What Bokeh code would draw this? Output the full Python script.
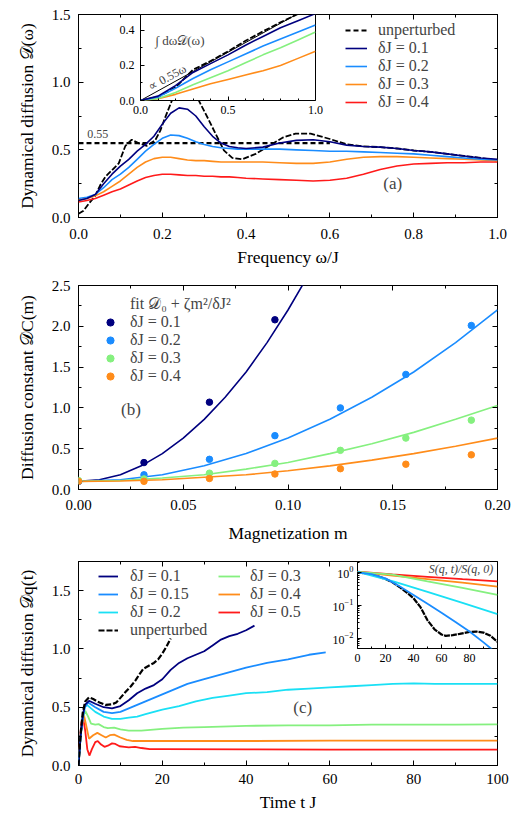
from bokeh.plotting import figure
from bokeh.models import (Range1d, SingleIntervalTicker, FixedTicker, PrintfTickFormatter,
                          LinearAxis, Legend, LegendItem, GridBox, Label, CustomJSTickFormatter)
from bokeh.embed import file_html
from bokeh.resources import INLINE

FONT = "Liberation Serif"
NAVY = "#00007f"
BLUE = "#1a8cff"
CYAN = "#1ae0f5"
GREEN = "#85f07f"
ORANGE = "#ff8c1a"
RED = "#ff1a1a"

# ---------------- panel (a) data ----------------
omega_u = [0, 0.012, 0.024, 0.04, 0.052, 0.064, 0.08, 0.096, 0.112, 0.127, 0.143, 0.163, 0.183,
           0.195, 0.207, 0.223, 0.24, 0.255, 0.27, 0.287, 0.311, 0.327, 0.347, 0.367, 0.391,
           0.423, 0.455, 0.487, 0.518, 0.554, 0.6, 0.641, 0.68, 0.72, 0.76, 0.80, 0.84, 0.88,
           0.92, 0.96, 1.0]
d_unpert = [0.027, 0.05, 0.10, 0.16, 0.24, 0.30, 0.35, 0.40, 0.53, 0.575, 0.55, 0.53, 0.57,
            0.64, 0.74, 0.865, 1.1, 1.2, 1.1, 0.865, 0.72, 0.62, 0.496, 0.44, 0.43, 0.47, 0.53,
            0.59, 0.62, 0.62, 0.58, 0.54, 0.525, 0.52, 0.51, 0.495, 0.485, 0.47, 0.455, 0.44, 0.42]
omega = [0, 0.02, 0.04, 0.06, 0.08, 0.1, 0.12, 0.14, 0.16, 0.18, 0.2, 0.22, 0.24, 0.26, 0.28,
         0.3, 0.32, 0.34, 0.36, 0.38, 0.4, 0.44, 0.48, 0.52, 0.56, 0.6, 0.64, 0.68, 0.72, 0.76,
         0.8, 0.84, 0.88, 0.92, 0.96, 1.0]
d_01 = [0.125, 0.14, 0.17, 0.25, 0.32, 0.38, 0.43, 0.49, 0.54, 0.6, 0.69, 0.77, 0.81, 0.8, 0.75,
        0.67, 0.6, 0.55, 0.525, 0.515, 0.51, 0.52, 0.55, 0.57, 0.575, 0.56, 0.535, 0.525, 0.52,
        0.51, 0.495, 0.485, 0.47, 0.455, 0.44, 0.43]
d_02 = [0.14, 0.15, 0.17, 0.22, 0.28, 0.32, 0.37, 0.43, 0.49, 0.54, 0.585, 0.61, 0.605, 0.585,
        0.56, 0.54, 0.525, 0.515, 0.51, 0.505, 0.505, 0.505, 0.505, 0.5, 0.495, 0.49, 0.49,
        0.485, 0.48, 0.475, 0.47, 0.46, 0.45, 0.44, 0.43, 0.425]
d_03 = [0.13, 0.14, 0.16, 0.19, 0.23, 0.27, 0.32, 0.37, 0.41, 0.435, 0.445, 0.445, 0.435, 0.425,
        0.42, 0.42, 0.415, 0.41, 0.41, 0.41, 0.41, 0.41, 0.405, 0.4, 0.4, 0.41, 0.43, 0.445,
        0.45, 0.45, 0.445, 0.44, 0.435, 0.43, 0.425, 0.42]
d_04 = [0.115, 0.125, 0.14, 0.165, 0.19, 0.21, 0.24, 0.27, 0.295, 0.31, 0.32, 0.32, 0.315, 0.31,
        0.31, 0.305, 0.305, 0.3, 0.3, 0.295, 0.29, 0.285, 0.28, 0.275, 0.27, 0.275, 0.29, 0.32,
        0.355, 0.38, 0.395, 0.4, 0.405, 0.405, 0.41, 0.41]
plateau_x = [0.0, 0.6]
plateau_y = [0.55, 0.55]

# inset (a): integrated diffusion
omega_i = [0, 0.1, 0.2, 0.3, 0.4, 0.5, 0.6, 0.7, 0.8, 0.9, 1.0]
int_unpert = [0, 0.02, 0.075, 0.175, 0.225, 0.28, 0.34, 0.394, 0.445, 0.493, 0.537]
int_01 = [0, 0.025, 0.085, 0.16, 0.21, 0.26, 0.315, 0.365, 0.415, 0.455, 0.495]
int_02 = [0, 0.02, 0.07, 0.125, 0.175, 0.22, 0.265, 0.31, 0.35, 0.39, 0.43]
int_03 = [0, 0.012, 0.045, 0.09, 0.13, 0.17, 0.215, 0.26, 0.3, 0.345, 0.39]
int_04 = [0, 0.01, 0.035, 0.065, 0.095, 0.12, 0.145, 0.17, 0.2, 0.24, 0.28]
prop_x = [0, 1]
prop_y = [0, 0.55]

# ---------------- panel (b) data ----------------
m_pts = [0.0, 0.03125, 0.0625, 0.09375, 0.125, 0.15625, 0.1875]
dc_01 = [0.10, 0.33, 1.07, 2.08]
dc_02 = [0.10, 0.18, 0.37, 0.66, 1.00, 1.41, 2.01]
dc_03 = [0.11, 0.13, 0.20, 0.32, 0.48, 0.63, 0.85]
dc_04 = [0.10, 0.10, 0.135, 0.19, 0.255, 0.31, 0.425]
fit_m1 = [0, 0.01, 0.02, 0.03, 0.04, 0.05, 0.06, 0.07, 0.08, 0.09, 0.10, 0.11]
fit_01 = [0.10, 0.12, 0.18, 0.29, 0.44, 0.63, 0.86, 1.13, 1.44, 1.80, 2.20, 2.64]
fit_m = [0, 0.02, 0.04, 0.06, 0.08, 0.10, 0.12, 0.14, 0.16, 0.18, 0.20]
fit_02 = [0.10, 0.12, 0.18, 0.29, 0.44, 0.63, 0.86, 1.13, 1.44, 1.80, 2.20]
fit_03 = [0.10, 0.11, 0.14, 0.18, 0.25, 0.33, 0.44, 0.56, 0.70, 0.86, 1.03]
fit_04 = [0.10, 0.105, 0.12, 0.15, 0.18, 0.23, 0.29, 0.36, 0.44, 0.53, 0.63]

# ---------------- panel (c) data ----------------
t_u = [0, 0.5, 1, 1.6, 2.5, 3.5, 5, 6.5, 8, 9, 10, 11.2, 12.5, 13.6, 14.5, 15.5, 17, 18, 19, 20, 21, 22]
dq_u = [0, 0.27, 0.45, 0.55, 0.585, 0.57, 0.54, 0.52, 0.525, 0.54, 0.58, 0.63, 0.68, 0.73, 0.78,
        0.83, 0.86, 0.88, 0.91, 0.96, 1.02, 1.09]
t_01 = [0, 0.5, 1, 1.5, 2.5, 4, 6, 8, 10, 12, 14, 16, 18, 20, 22, 24, 26, 28, 30, 32, 34, 36, 38, 40, 42]
dq_01 = [0, 0.25, 0.42, 0.52, 0.555, 0.53, 0.5, 0.49, 0.51, 0.56, 0.62, 0.66, 0.69, 0.74, 0.82,
         0.88, 0.92, 0.95, 0.98, 1.03, 1.08, 1.11, 1.13, 1.16, 1.20]
t_015 = [0, 0.5, 1, 1.5, 2.3, 4, 6, 8, 10, 12, 14, 16, 18, 20, 22, 24, 26, 30, 35, 40, 45, 50, 55, 59]
dq_015 = [0, 0.25, 0.4, 0.5, 0.54, 0.5, 0.46, 0.45, 0.46, 0.49, 0.52, 0.55, 0.58, 0.61, 0.64,
          0.67, 0.7, 0.74, 0.79, 0.84, 0.88, 0.91, 0.95, 0.97]
t_02 = [0, 0.5, 1, 1.5, 2, 3, 4, 6, 8, 10, 12, 14, 16, 18, 20, 24, 28, 32, 36, 40, 45, 50, 55, 60,
        65, 70, 75, 80, 85, 90, 95, 100]
dq_02 = [0, 0.25, 0.42, 0.5, 0.52, 0.49, 0.46, 0.42, 0.40, 0.40, 0.41, 0.42, 0.44, 0.46, 0.48,
         0.51, 0.55, 0.58, 0.60, 0.62, 0.63, 0.65, 0.66, 0.67, 0.68, 0.69, 0.70, 0.705, 0.70,
         0.70, 0.70, 0.70]
t_03 = [0, 0.5, 1, 1.6, 2.3, 3, 4, 4.8, 6, 7, 8.5, 10, 12, 15, 20, 25, 30, 40, 50, 60, 70, 80, 90, 100]
dq_03 = [0, 0.25, 0.4, 0.47, 0.42, 0.36, 0.35, 0.355, 0.33, 0.32, 0.325, 0.31, 0.30, 0.30, 0.315,
         0.325, 0.33, 0.34, 0.345, 0.345, 0.35, 0.35, 0.35, 0.353]
t_04 = [0, 0.5, 1, 1.3, 1.8, 2.5, 3.5, 4.5, 5.5, 6.5, 7.5, 8.5, 10, 11.5, 13, 20, 40, 60, 80, 100]
dq_04 = [0, 0.25, 0.4, 0.43, 0.35, 0.23, 0.26, 0.28, 0.26, 0.24, 0.26, 0.265, 0.24, 0.22, 0.21,
         0.21, 0.21, 0.213, 0.214, 0.214]
t_05 = [0, 0.3, 0.7, 1.1, 1.6, 2.1, 2.6, 3.2, 4, 4.6, 5.4, 6.2, 7, 8, 8.8, 9.8, 11, 12, 13.5, 15,
        17, 20, 40, 60, 80, 100]
dq_05 = [0, 0.2, 0.37, 0.41, 0.3, 0.14, 0.085, 0.14, 0.2, 0.21, 0.18, 0.16, 0.17, 0.19, 0.185,
         0.165, 0.16, 0.155, 0.16, 0.15, 0.14, 0.14, 0.138, 0.137, 0.137, 0.137]

# inset (c): S(q,t)/S(q,0), log scale
ts_u = [0, 5, 10, 15, 20, 25, 30, 35, 40, 45, 50, 55, 60, 63, 68, 73, 80, 85, 90, 95, 100]
s_u = [1.0, 0.955, 0.871, 0.759, 0.631, 0.501, 0.363, 0.251, 0.166, 0.089, 0.0355, 0.019, 0.0132,
       0.012, 0.0126, 0.0138, 0.0158, 0.0162, 0.0151, 0.012, 0.0079]
ts_015 = [0, 10, 20, 30, 40, 50, 60, 70, 80, 90, 96]
s_015 = [1.0, 0.891, 0.661, 0.380, 0.209, 0.112, 0.0603, 0.0316, 0.0162, 0.0076, 0.0047]
ts = [0, 25, 50, 75, 100]
s_02 = [1.05, 0.55, 0.26, 0.12, 0.055]
s_03 = [1.05, 0.86, 0.54, 0.34, 0.21]
s_04 = [1.05, 0.81, 0.63, 0.49, 0.37]
s_05 = [1.05, 0.87, 0.74, 0.63, 0.54]


def style_axis(ax, label_size="15px", tick_in=5, minor_in=3, standoff=8):
    ax.axis_line_color = None
    ax.major_tick_in = tick_in
    ax.major_tick_out = 0
    ax.minor_tick_in = minor_in
    ax.minor_tick_out = 0
    ax.major_tick_line_color = "black"
    ax.minor_tick_line_color = "black"
    ax.major_label_text_font = FONT
    ax.major_label_text_font_size = label_size
    ax.major_label_text_color = "black"
    ax.major_label_standoff = standoff
    ax.axis_label_text_font = FONT
    ax.axis_label_text_font_size = "17.5px"
    ax.axis_label_text_font_style = "normal"
    ax.axis_label_text_color = "black"


def base_fig(width, height, xr, yr, borders, **kw):
    top, right, bottom, left = borders
    p = figure(width=width, height=height, x_range=xr, y_range=yr, output_backend="svg",
               toolbar_location=None, min_border_top=top, min_border_right=right,
               min_border_bottom=bottom, min_border_left=left, **kw)
    p.xgrid.visible = False
    p.ygrid.visible = False
    p.outline_line_color = "black"
    p.outline_line_width = 1
    p.outline_line_alpha = 1
    p.background_fill_color = "white"
    return p


def mirror(p, xticker, yticker):
    blank = CustomJSTickFormatter(code="return ''")
    for loc, tk in (("right", yticker), ("above", xticker)):
        ax = LinearAxis(ticker=tk, formatter=blank)
        style_axis(ax, standoff=0)
        p.add_layout(ax, loc)


def make_legend(items, x, y, size="16px", gw=22, standoff=11):
    lg = Legend(items=items, location=(x, y), orientation="vertical")
    lg.label_text_font = FONT
    lg.label_text_font_size = size
    lg.glyph_width = gw
    lg.glyph_height = 18
    lg.label_height = 18
    lg.label_width = 10
    lg.spacing = 0
    lg.padding = 0
    lg.margin = 0
    lg.label_standoff = standoff
    lg.background_fill_alpha = 0
    lg.border_line_alpha = 0
    return lg


# borders (top, right, bottom, left); insets share their host's borders (grid alignment)
BA = (14, 30, 55, 78)
BB = (13, 30, 55, 78)
BC = (16, 30, 51, 78)

# ================= panel (a) =================
pa = base_fig(527, 272, Range1d(0, 1), Range1d(0, 1.5), BA)
xa_t = SingleIntervalTicker(interval=0.2, num_minor_ticks=2)
ya_t = SingleIntervalTicker(interval=0.5, num_minor_ticks=2)
pa.xaxis.ticker = xa_t
pa.yaxis.ticker = ya_t
pa.xaxis.formatter = PrintfTickFormatter(format="%.1f")
pa.yaxis.formatter = PrintfTickFormatter(format="%.1f")
style_axis(pa.xaxis[0], standoff=11)
style_axis(pa.yaxis[0])
pa.xaxis.axis_label = "Frequency ω/J"
pa.yaxis.axis_label = "Dynamical diffusion 𝒟(ω)"
pa.xaxis.axis_label_standoff = 5
pa.yaxis.axis_label_standoff = 12
mirror(pa, xa_t, ya_t)

r_pl = pa.line(plateau_x, plateau_y, color="black", line_width=2.2, line_dash="5 3")
pa.line(omega_u, d_unpert, color="black", line_width=1.8, line_dash="6 2")
r_a4 = pa.line(omega, d_04, color=RED, line_width=1.6)
r_a3 = pa.line(omega, d_03, color=ORANGE, line_width=1.6)
r_a2 = pa.line(omega, d_02, color=BLUE, line_width=1.6)
r_a1 = pa.line(omega, d_01, color=NAVY, line_width=1.6)
pa.add_layout(Label(x=0.021, y=0.62, text="0.55", text_font=FONT, text_font_size="12px",
                    text_baseline="middle"))
pa.add_layout(Label(x=0.75, y=0.25, text="(a)", text_font=FONT, text_font_size="17px",
                    text_align="center", text_baseline="middle"))
pa.add_layout(make_legend([
    LegendItem(label="unperturbed", renderers=[r_pl]),
    LegendItem(label="δJ = 0.1", renderers=[r_a1]),
    LegendItem(label="δJ = 0.2", renderers=[r_a2]),
    LegendItem(label="δJ = 0.3", renderers=[r_a3]),
    LegendItem(label="δJ = 0.4", renderers=[r_a4]),
], 267, 106))

# inset (a): frame 175 x 86
ia = base_fig(BA[3] + 175 + BA[1], BA[0] + 86 + BA[2], Range1d(0, 1), Range1d(0, 0.49), BA)
ia.border_fill_alpha = 0
ia.xaxis.ticker = FixedTicker(ticks=[0, 0.5, 1.0], minor_ticks=[0.1, 0.2, 0.3, 0.4, 0.6, 0.7, 0.8, 0.9])
ia.yaxis.ticker = FixedTicker(ticks=[0, 0.2, 0.4], minor_ticks=[0.1, 0.3])
ia.xaxis.formatter = PrintfTickFormatter(format="%.1f")
ia.yaxis.formatter = PrintfTickFormatter(format="%.1f")
style_axis(ia.xaxis[0], label_size="12px", tick_in=4, minor_in=2, standoff=5)
style_axis(ia.yaxis[0], label_size="12px", tick_in=4, minor_in=2, standoff=6)
ia.line(prop_x, prop_y, color="black", line_width=1)
ia.line(omega_i, int_unpert, color="black", line_width=1.8, line_dash="6 2")
ia.line(omega_i, int_04, color=ORANGE, line_width=1.6)
ia.line(omega_i, int_03, color=GREEN, line_width=1.6)
ia.line(omega_i, int_02, color=BLUE, line_width=1.6)
ia.line(omega_i, int_01, color=NAVY, line_width=1.6)
ia.add_layout(Label(x=0.085, y=0.343, text="∫ dω𝒟(ω)", text_font=FONT, text_font_size="13px",
                    text_baseline="middle"))
ia.add_layout(Label(x=0.07, y=0.04, text="∝ 0.55ω", text_font=FONT, text_font_size="12px",
                    angle=28.8, angle_units="deg", text_baseline="bottom"))
ia.margin = (0, 0, 0, 140 - BA[3])

# ================= panel (b) =================
pb = base_fig(527, 273, Range1d(0, 0.2), Range1d(0, 2.5), BB)
xb_t = SingleIntervalTicker(interval=0.05, num_minor_ticks=2)
yb_t = SingleIntervalTicker(interval=0.5, num_minor_ticks=2)
pb.xaxis.ticker = xb_t
pb.yaxis.ticker = yb_t
pb.xaxis.formatter = PrintfTickFormatter(format="%.2f")
pb.yaxis.formatter = PrintfTickFormatter(format="%.1f")
style_axis(pb.xaxis[0], standoff=10)
style_axis(pb.yaxis[0])
pb.xaxis.axis_label = "Magnetization m"
pb.yaxis.axis_label = "Diffusion constant 𝒟C(m)"
pb.xaxis.axis_label_standoff = 10
pb.yaxis.axis_label_standoff = 12
mirror(pb, xb_t, yb_t)

r_fit = pb.line([], [], color="black", line_width=2)
pb.line(fit_m1, fit_01, color=NAVY, line_width=1.6)
pb.line(fit_m, fit_02, color=BLUE, line_width=1.6)
pb.line(fit_m, fit_03, color=GREEN, line_width=1.6)
pb.line(fit_m, fit_04, color=ORANGE, line_width=1.6)
s1 = pb.scatter(m_pts[:len(dc_01)], dc_01, color=NAVY, size=6.5)
s2 = pb.scatter(m_pts, dc_02, color=BLUE, size=6.5)
s3 = pb.scatter(m_pts, dc_03, color=GREEN, size=6.5)
s4 = pb.scatter(m_pts, dc_04, color=ORANGE, size=6.5)
pb.add_layout(Label(x=0.025, y=0.98, text="(b)", text_font=FONT, text_font_size="17px",
                    text_align="center", text_baseline="middle"))
pb.add_layout(make_legend([
    LegendItem(label="fit 𝒟₀ + ζm²/δJ²", renderers=[r_fit]),
    LegendItem(label="δJ = 0.1", renderers=[s1]),
    LegendItem(label="δJ = 0.2", renderers=[s2]),
    LegendItem(label="δJ = 0.3", renderers=[s3]),
    LegendItem(label="δJ = 0.4", renderers=[s4]),
], 22, 104, gw=20, standoff=10))

# ================= panel (c) =================
pc = base_fig(527, 271, Range1d(0, 100), Range1d(0, 1.75), BC)
xc_t = SingleIntervalTicker(interval=20, num_minor_ticks=2)
yc_t = SingleIntervalTicker(interval=0.5, num_minor_ticks=2)
pc.xaxis.ticker = xc_t
pc.yaxis.ticker = yc_t
pc.yaxis.formatter = PrintfTickFormatter(format="%.1f")
style_axis(pc.xaxis[0], standoff=8)
style_axis(pc.yaxis[0])
pc.xaxis.axis_label = "Time t J"
pc.yaxis.axis_label = "Dynamical diffusion 𝒟q(t)"
pc.xaxis.axis_label_standoff = 5
pc.yaxis.axis_label_standoff = 12
mirror(pc, xc_t, yc_t)

c5 = pc.line(t_05, dq_05, color=RED, line_width=1.8)
c4 = pc.line(t_04, dq_04, color=ORANGE, line_width=1.8)
c3 = pc.line(t_03, dq_03, color=GREEN, line_width=1.8)
c2 = pc.line(t_02, dq_02, color=CYAN, line_width=1.8)
c15 = pc.line(t_015, dq_015, color=BLUE, line_width=1.8)
c1 = pc.line(t_01, dq_01, color=NAVY, line_width=1.8)
cu = pc.line(t_u, dq_u, color="black", line_width=2.2, line_dash="6 2")
pc.add_layout(Label(x=53.5, y=0.5, text="(c)", text_font=FONT, text_font_size="17px",
                    text_align="center", text_baseline="middle"))
pc.add_layout(make_legend([
    LegendItem(label="δJ = 0.1", renderers=[c1]),
    LegendItem(label="δJ = 0.15", renderers=[c15]),
    LegendItem(label="δJ = 0.2", renderers=[c2]),
    LegendItem(label="unperturbed", renderers=[cu]),
], 20, 126, gw=20, standoff=12))
pc.add_layout(make_legend([
    LegendItem(label="δJ = 0.3", renderers=[c3]),
    LegendItem(label="δJ = 0.4", renderers=[c4]),
    LegendItem(label="δJ = 0.5", renderers=[c5]),
], 140, 144, gw=22, standoff=10))

# inset (c): frame 140 x 87
ic = base_fig(BC[3] + 140 + BC[1], BC[0] + 87 + BC[2], Range1d(0, 100), Range1d(0.00497, 2.15),
              BC, y_axis_type="log")
ic.border_fill_alpha = 0
ic.xaxis.ticker = FixedTicker(ticks=[0, 20, 40, 60, 80], minor_ticks=[10, 30, 50, 70, 90])
style_axis(ic.xaxis[0], label_size="12px", tick_in=4, minor_in=2, standoff=5)
style_axis(ic.yaxis[0], label_size="12px", tick_in=4, minor_in=2, standoff=4)
ic.line(ts_u, s_u, color="black", line_width=2.2, line_dash="6 1")
ic.line(ts, s_05, color=RED, line_width=1.8)
ic.line(ts, s_04, color=ORANGE, line_width=1.8)
ic.line(ts, s_03, color=GREEN, line_width=1.8)
ic.line(ts, s_02, color=CYAN, line_width=1.8)
ic.line(ts_015, s_015, color=BLUE, line_width=1.8)
ic.add_layout(Label(x=97, y=1.25, text="S(q, t)/S(q, 0)", text_font=FONT, text_font_size="12px",
                    text_font_style="italic", text_align="right", text_baseline="middle"))
ic.margin = (0, 0, 0, 357 - BC[3])

grid = GridBox(children=[(pa, 0, 0), (ia, 0, 0), (pb, 1, 0), (pc, 2, 0), (ic, 2, 0)])

open("out.html", "w").write(file_html(grid, INLINE))
